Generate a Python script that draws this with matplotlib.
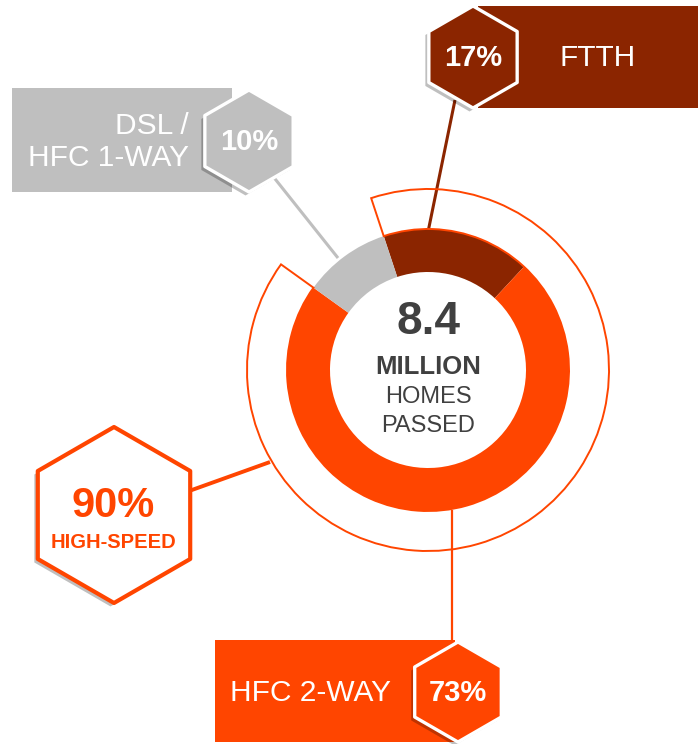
import matplotlib
matplotlib.use("Agg")
import matplotlib.pyplot as plt
from matplotlib.patches import Wedge, RegularPolygon, Rectangle
import matplotlib.patheffects as pe

plt.rcParams['font.family'] = ['Liberation Sans', 'DejaVu Sans']

# ---------------------------
# data
# ---------------------------
labels = ["FTTH", "HFC 2-WAY", "DSL /\nHFC 1-WAY"]
shares = [17, 73, 10]                 # percent of homes passed
colors = ["#8b2500", "#ff4500", "#bfbfbf"]
total_homes = "8.4"
high_speed = shares[0] + shares[1]    # FTTH + HFC 2-way

ORANGE = "#ff4500"
DARK = "#404040"
H = 744

def Y(y):
    # pixel row (from top) -> data y (from bottom)
    return H - y

# ---------------------------
# figure
# ---------------------------
fig = plt.figure(figsize=(6.99, 7.44), dpi=100)
ax = fig.add_axes([0, 0, 1, 1])

cx, cy = 428, Y(370)
R_OUT = 141
R_IN = 98
START = 108.3

ax.pie(shares, colors=colors, startangle=START, counterclock=False,
       radius=R_OUT, center=(cx, cy),
       wedgeprops=dict(width=R_OUT - R_IN, linewidth=0))

# thin outline around the high-speed share
end_ang = START - sum(shares[:2]) / 100 * 360
ax.add_patch(Wedge((cx, cy), 181, end_ang, START, width=181 - R_OUT,
                   fill=False, edgecolor=ORANGE, lw=1.4, zorder=3))

# centre text
ax.text(cx, Y(322), total_homes, ha="center", va="center", fontsize=33,
        fontweight="bold", color=DARK)
ax.text(cx, Y(367), "MILLION", ha="center", va="center", fontsize=18.5,
        fontweight="bold", color=DARK)
ax.text(cx, Y(397), "HOMES", ha="center", va="center", fontsize=17, color=DARK)
ax.text(cx, Y(426), "PASSED", ha="center", va="center", fontsize=17, color=DARK)

shadow = [pe.withSimplePatchShadow(offset=(-2.5, -2.5), shadow_rgbFace="k", alpha=0.25)]

def hexagon(x, y, r, face, edge, lw):
    ax.add_patch(RegularPolygon((x, Y(y)), 6, radius=r, facecolor=face,
                                edgecolor=edge, lw=lw, joinstyle="round",
                                zorder=6, path_effects=shadow))

# ---------------------------
# leader lines
# ---------------------------
ax.plot([428, 455], [Y(232), Y(100)], color=colors[0], lw=2.2, zorder=2,
        solid_capstyle="butt")
ax.plot([338, 260], [Y(258), Y(160)], color=colors[2], lw=2.2, zorder=2,
        solid_capstyle="butt")
ax.plot([452, 452], [Y(510), Y(660)], color=ORANGE, lw=1.6, zorder=2,
        solid_capstyle="butt")
ax.plot([270, 150], [Y(462), Y(505)], color=ORANGE, lw=2.8, zorder=2,
        solid_capstyle="butt")

# ---------------------------
# FTTH label
# ---------------------------
ax.add_patch(Rectangle((478, Y(108)), 220, 102, facecolor=colors[0],
                       lw=0, zorder=4))
hexagon(473, 57, 51, colors[0], "white", 2.4)
ax.text(473, Y(58), f"{shares[0]}%", ha="center", va="center", fontsize=21,
        fontweight="bold", color="white", zorder=7)
ax.text(598, Y(58), labels[0], ha="center", va="center", fontsize=21.5,
        color="white", zorder=7)

# ---------------------------
# DSL label
# ---------------------------
ax.add_patch(Rectangle((12, Y(192)), 220, 104, facecolor=colors[2],
                       lw=0, zorder=4))
hexagon(249, 141, 51, colors[2], "white", 2.4)
ax.text(249, Y(142), f"{shares[2]}%", ha="center", va="center", fontsize=21,
        fontweight="bold", color="white", zorder=7)
ax.text(189, Y(142), labels[2], ha="right", va="center", fontsize=21.5,
        color="white", zorder=7, linespacing=1.15, multialignment="right")

# ---------------------------
# HFC 2-WAY label
# ---------------------------
ax.add_patch(Rectangle((215, Y(742)), 240, 102, facecolor=colors[1],
                       lw=0, zorder=4))
hexagon(458, 692, 50, colors[1], "white", 2.4)
ax.text(458, Y(693), f"{shares[1]}%", ha="center", va="center", fontsize=21,
        fontweight="bold", color="white", zorder=7)
ax.text(311, Y(693), labels[1], ha="center", va="center", fontsize=21.5,
        color="white", zorder=7)

# ---------------------------
# high-speed badge
# ---------------------------
hexagon(114, 515, 88, "white", ORANGE, 3)
ax.text(113, Y(506), f"{high_speed}%", ha="center", va="center", fontsize=30,
        fontweight="bold", color=ORANGE, zorder=7)
ax.text(113, Y(543), "HIGH-SPEED", ha="center", va="center", fontsize=14.5,
        fontweight="bold", color=ORANGE, zorder=7)

ax.set_xlim(0, 699)
ax.set_ylim(0, H)
ax.set_aspect("equal")
ax.axis("off")

fig.savefig("out.png", dpi=100)
